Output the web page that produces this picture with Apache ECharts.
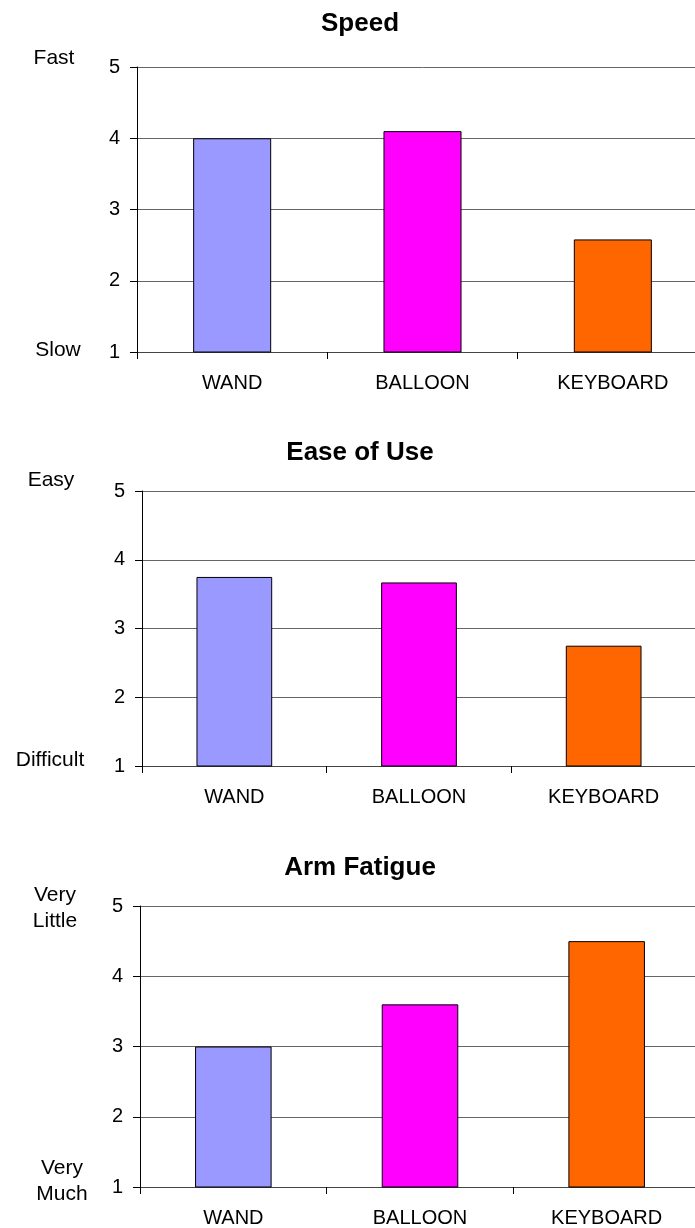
<!DOCTYPE html>
<html>
<head>
<meta charset="utf-8">
<script src="https://cdn.jsdelivr.net/npm/echarts@6/dist/echarts.min.js"></script>
<style>
  html, body { margin: 0; padding: 0; background: #fff; overflow: hidden; }
  #chart { width: 710px; height: 1228px; }
</style>
</head>
<body>
<div id="chart"></div>
<script>
  // data
  var categories = ["WAND", "BALLOON", "KEYBOARD"];
  var speed = [4.0, 4.1, 2.58];
  var easeOfUse = [3.75, 3.67, 2.75];
  var armFatigue = [3.0, 3.6, 4.5];
  var titles = ["Speed", "Ease of Use", "Arm Fatigue"];
  var yMin = 1, yMax = 5, yStep = 1;

  var barColors = ["#9999FF", "#FF00FF", "#FF6600"];
  var font = "Liberation Sans, Arial, sans-serif";

  var myChart = echarts.init(document.getElementById("chart"));

  // panel layout: [left, top, width, height, titleTop]
  var panels = [
    [137, 67, 571, 285, 11],
    [142, 491, 554, 275, 440],
    [140, 906, 560, 281, 855],
  ];
  var datasets = [speed, easeOfUse, armFatigue];

  var grid = [], xAxis = [], yAxis = [], series = [], title = [];
  panels.forEach(function (p, i) {
    title.push({
      text: titles[i],
      left: 360,
      top: p[4],
      textAlign: "center",
      padding: 0,
      textStyle: { fontFamily: font, fontSize: 26, fontWeight: "bold", color: "#000" },
    });
    grid.push({ left: p[0], top: p[1], width: p[2], height: p[3] });
    xAxis.push({
      type: "category",
      gridIndex: i,
      data: categories,
      axisLine: { lineStyle: { color: "#444", width: 1 } },
      axisTick: { show: true, length: 7, lineStyle: { color: "#000" } },
      axisLabel: { margin: 21, fontFamily: font, fontSize: 20, color: "#000" },
    });
    yAxis.push({
      type: "value",
      gridIndex: i,
      min: yMin,
      max: yMax,
      interval: yStep,
      axisLine: { show: true, lineStyle: { color: "#000", width: 1 } },
      axisTick: { show: true, length: 7, lineStyle: { color: "#000" } },
      axisLabel: { margin: 17, fontFamily: font, fontSize: 20, color: "#000" },
      splitLine: { show: true, lineStyle: { color: "#666", width: 1 } },
    });
    series.push({
      type: "bar",
      xAxisIndex: i,
      yAxisIndex: i,
      barWidth: "41%",
      data: datasets[i],
      itemStyle: {
        color: function (params) {
          return barColors[params.dataIndex];
        },
        borderColor: "#000",
        borderWidth: 1,
      },
    });
  });

  function sideText(x, y, text) {
    return {
      type: "text",
      x: x,
      y: y,
      style: {
        text: text,
        fontFamily: font,
        fontSize: 21,
        lineHeight: 26,
        fill: "#000",
        align: "center",
        verticalAlign: "middle",
      },
    };
  }

  var option = {
    animation: false,
    title: title,
    grid: grid,
    xAxis: xAxis,
    yAxis: yAxis,
    series: series,
    graphic: [
      sideText(54, 58, "Fast"),
      sideText(58, 350, "Slow"),
      sideText(51, 480, "Easy"),
      sideText(50, 760, "Difficult"),
      sideText(55, 908, "Very\nLittle"),
      sideText(62, 1181, "Very\nMuch"),
    ],
  };
  myChart.setOption(option);
</script>
</body>
</html>
